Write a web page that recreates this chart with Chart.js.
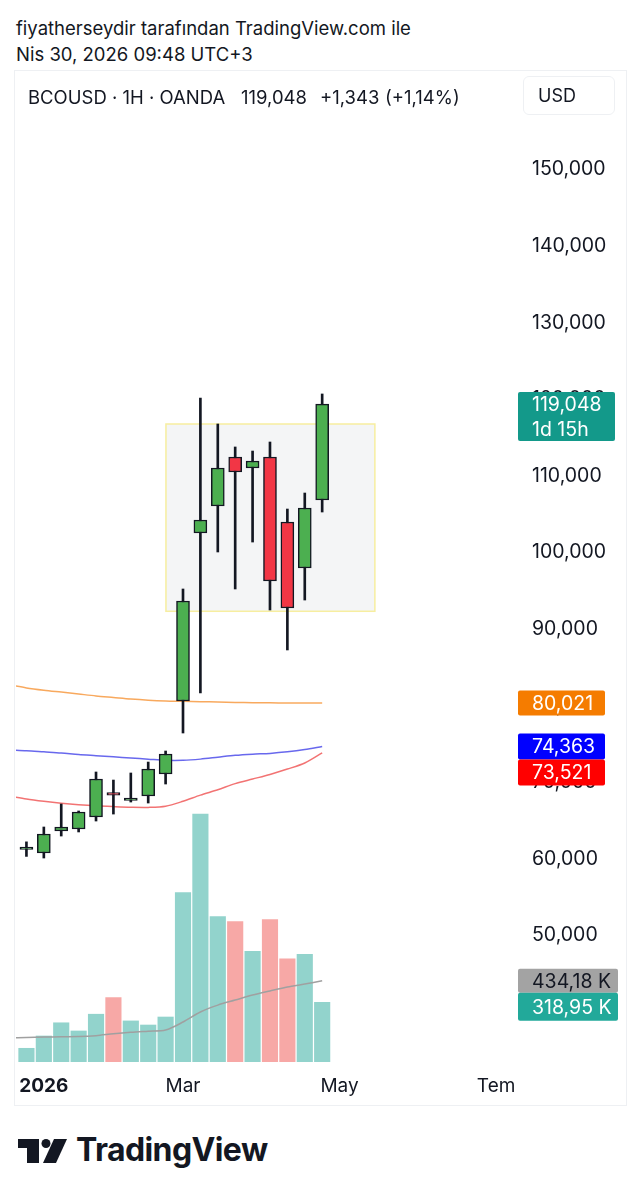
<!DOCTYPE html>
<html>
<head>
<meta charset="utf-8">
<script src="https://cdn.jsdelivr.net/npm/chart.js@4.4.1/dist/chart.umd.min.js"></script>
<style>
  body { margin: 0; background: #fff; width: 643px; height: 1200px; position: relative; overflow: hidden;
         font-family: Inter, 'Noto Sans', sans-serif; color: #131722; }
  .txt { position: absolute; white-space: nowrap; font-size: 18.5px; }
  .pane { position: absolute; left: 14px; top: 70px; width: 611px; height: 1034px; border: 1px solid #eef0f3; }
  .usd { position: absolute; left: 523px; top: 76px; width: 92px; height: 39px; border: 1px solid #eef0f3;
         border-radius: 6px; box-sizing: border-box; font-size: 18px; line-height: 37px; padding-left: 14px; }
  #wrap { position: absolute; left: 16px; top: 70px; width: 610px; height: 1035px; }
  .logo { position: absolute; left: 18px; top: 1136px; }
  .logotxt { position: absolute; left: 76px; top: 1130px; font-size: 32px; font-weight: 700; letter-spacing: -0.6px; }
</style>
</head>
<body>
<div class="txt" style="left:16px;top:17px">fiyatherseydir tarafından TradingView.com ile</div>
<div class="txt" style="left:16px;top:43px">Nis 30, 2026 09:48 UTC+3</div>
<div class="pane"></div>
<div id="wrap"><canvas id="chart" width="610" height="1035"></canvas></div>
<div class="txt" style="left:28px;top:86px">BCOUSD · 1H · OANDA</div>
<div class="txt" style="left:241px;top:86px">119,048</div>
<div class="txt" style="left:320px;top:86px">+1,343</div>
<div class="txt" style="left:385px;top:86px">(+1,14%)</div>
<div class="usd">USD</div>
<svg class="logo" width="50" height="30" viewBox="0 0 50 30">
  <path d="M0 3 H21 V27 H9 V12 H0 Z" fill="#131722"/>
  <circle cx="28" cy="7.5" r="4.5" fill="#131722"/>
  <path d="M36 3 H49 L38 27 H25 Z" fill="#131722"/>
</svg>
<div class="logotxt">TradingView</div>

<script>
// weekly candles, BCOUSD
const weeks = ['29.12.2025', '05.01.2026', '12.01.2026', '19.01.2026', '26.01.2026', '02.02.2026',
  '09.02.2026', '16.02.2026', '23.02.2026', '02.03.2026', '09.03.2026', '16.03.2026', '23.03.2026',
  '30.03.2026', '06.04.2026', '13.04.2026', '20.04.2026', '27.04.2026'];
const open  = [60.90, 60.44, 63.32, 63.58, 65.14, 68.08, 67.30, 67.89, 70.76, 80.29, 102.22, 105.74, 112.14, 110.70, 112.14, 103.66, 97.65, 106.53];
const high  = [61.90, 63.84, 66.84, 65.93, 71.02, 69.97, 70.89, 72.32, 73.76, 94.91, 119.84, 116.45, 113.45, 112.92, 114.10, 105.35, 107.44, 120.37];
const low   = [60.00, 59.79, 62.66, 63.19, 64.62, 65.53, 67.10, 66.97, 69.45, 76.11, 81.33, 99.74, 94.91, 101.04, 92.17, 86.95, 93.47, 104.96];
const close = [60.95, 62.92, 63.84, 65.80, 70.10, 68.00, 67.50, 71.41, 73.37, 93.34, 103.92, 110.70, 110.18, 111.62, 95.95, 92.43, 105.48, 119.048];
const volume = [72, 138, 209, 165, 255, 344, 219, 197, 240, 908, 1330, 779, 752, 593, 763, 553, 577, 318.95]; // K

// moving averages, first value is the week before the first candle
const maOrange = [82.40, 82.00, 81.70, 81.45, 81.20, 80.95, 80.75, 80.55, 80.40, 80.30, 80.25, 80.20, 80.15, 80.10, 80.07, 80.05, 80.03, 80.02, 80.021];
const maBlue   = [73.90, 73.80, 73.65, 73.50, 73.30, 73.15, 73.00, 72.85, 72.70, 72.55, 72.55, 72.70, 72.95, 73.20, 73.35, 73.45, 73.65, 73.95, 74.363];
const maRed    = [67.90, 67.50, 67.20, 66.95, 66.75, 66.60, 66.50, 66.42, 66.40, 66.55, 67.20, 68.00, 68.70, 69.50, 70.10, 70.70, 71.40, 72.20, 73.521];
const volMA    = [128, 130, 132, 134, 135, 140, 150, 158, 164, 170, 213, 267, 304, 331, 358, 380, 401, 417, 434.18];

const priceTicks = [50, 60, 70, 80, 90, 100, 110, 120, 130, 140, 150];
const timeTicks = [1, 9, 18, 27];
const timeLabels = ['2026', 'Mar', 'May', 'Tem'];
const countdown = '1d 15h';

// drawn rectangle (weeks / price)
const zone = { from: 8.02, to: 20.03, top: 116.45, bottom: 92.0 };

const UP = '#4caf50', DOWN = '#f23645', EDGE = '#131722';
const FONT = 'Inter, "Noto Sans", sans-serif';
const fmtPrice = v => v.toFixed(3).replace('.', ',');
const fmtVol = v => v.toFixed(2).replace('.', ',') + ' K';
const isUp = i => close[i] >= open[i];

const zonePlugin = {
  id: 'zone',
  beforeDatasetsDraw(chart) {
    const { ctx, scales: { x, y } } = chart;
    const x1 = x.getPixelForValue(zone.from), x2 = x.getPixelForValue(zone.to);
    const y1 = y.getPixelForValue(zone.top), y2 = y.getPixelForValue(zone.bottom);
    ctx.save();
    ctx.fillStyle = 'rgba(120,123,134,0.08)';
    ctx.fillRect(x1, y1, x2 - x1, y2 - y1);
    ctx.strokeStyle = '#f7eea0';
    ctx.lineWidth = 1.5;
    ctx.strokeRect(x1, y1, x2 - x1, y2 - y1);
    ctx.restore();
  }
};

function tag(ctx, left, top, w, h, bg, fg, lines) {
  ctx.fillStyle = bg;
  ctx.beginPath();
  ctx.roundRect(left, top, w, h, 2);
  ctx.fill();
  ctx.fillStyle = fg;
  ctx.textBaseline = 'middle';
  ctx.textAlign = 'left';
  const lh = h / lines.length;
  lines.forEach((t, k) => ctx.fillText(t, left + 14, top + lh * k + lh / 2 + 1));
}

const tagPlugin = {
  id: 'tags',
  afterDraw(chart) {
    const { ctx, chartArea: a, scales: { y, vol } } = chart;
    const n = close.length;
    const L = a.right + 1;
    ctx.save();
    ctx.font = '19.5px ' + FONT;
    const last = y.getPixelForValue(close[n - 1]);
    tag(ctx, L, last - 12, 97, 49, '#13998a', '#fff', [fmtPrice(close[n - 1]), countdown]);
    const yo = y.getPixelForValue(maOrange[n]);
    tag(ctx, L, yo - 12.5, 87, 25, '#f57c00', '#fff', [fmtPrice(maOrange[n])]);
    const yb = y.getPixelForValue(maBlue[n]);
    tag(ctx, L, yb - 13, 87, 26, '#0000ff', '#fff', [fmtPrice(maBlue[n])]);
    const yr = Math.max(y.getPixelForValue(maRed[n]) - 13, yb + 13);
    tag(ctx, L, yr, 87, 26, '#ff0000', '#fff', [fmtPrice(maRed[n])]);
    const yg = vol.getPixelForValue(volMA[n]);
    tag(ctx, L, yg - 12, 100, 24, '#a3a3a3', '#131722', [fmtVol(volMA[n])]);
    const yv = Math.max(vol.getPixelForValue(volume[n - 1]) - 14, yg + 12);
    tag(ctx, L, yv, 100, 28, '#22a99a', '#fff', [fmtVol(volume[n - 1])]);
    ctx.restore();
  }
};

const line = (data, color) => ({
  type: 'line', data: data.map((v, i) => ({ x: i - 1, y: v })), borderColor: color,
  borderWidth: 1.5, pointRadius: 0, tension: 0.3, order: 3, yAxisID: 'y'
});

new Chart(document.getElementById('chart'), {
  data: {
    datasets: [
      {
        type: 'bar', label: 'Hacim', yAxisID: 'vol', grouped: false, order: 6,
        data: volume.map((v, i) => ({ x: i, y: v })),
        backgroundColor: volume.map((v, i) => (isUp(i) && i !== 5) ? '#92d3cc' : '#f7a8a6'),
        barThickness: 15.5
      },
      {
        type: 'line', label: 'Hacim MA', yAxisID: 'vol', order: 5,
        data: volMA.map((v, i) => ({ x: i - 1, y: v })),
        borderColor: '#a0a0a0', borderWidth: 1.5, pointRadius: 0, tension: 0.3
      },
      line(maOrange, 'rgba(245,140,40,0.75)'),
      line(maBlue, 'rgba(40,40,230,0.7)'),
      line(maRed, 'rgba(235,40,40,0.65)'),
      {
        type: 'bar', label: 'wick', yAxisID: 'y', grouped: false, order: 2,
        data: weeks.map((w, i) => ({ x: i, y: [low[i], high[i]] })),
        backgroundColor: EDGE, barThickness: 2
      },
      {
        type: 'bar', label: 'body', yAxisID: 'y', grouped: false, order: 1,
        data: weeks.map((w, i) => ({ x: i, y: [open[i], close[i]] })),
        backgroundColor: weeks.map((w, i) => isUp(i) ? UP : DOWN),
        borderColor: EDGE, borderWidth: 1.5, borderSkipped: false, barThickness: 13, minBarLength: 2.5
      }
    ]
  },
  options: {
    responsive: false,
    animation: false,
    layout: { padding: { top: 60 } },
    plugins: { legend: { display: false }, tooltip: { enabled: false } },
    scales: {
      x: {
        type: 'linear', min: -0.6, max: 28.2, offset: false,
        grid: { display: false, drawTicks: false }, border: { display: false },
        afterBuildTicks: s => { s.ticks = timeTicks.map(v => ({ value: v })); },
        afterFit: s => { s.height = 41; s.paddingLeft = 0; s.paddingRight = 0; },
        ticks: {
          autoSkip: false, maxRotation: 0, padding: 11, color: '#131722',
          font: c => ({ size: 19, family: FONT, weight: c.index === 0 ? 'bold' : 'normal' }),
          callback: v => timeLabels[timeTicks.indexOf(v)]
        }
      },
      y: {
        position: 'right', min: 32.9, max: 154.83,
        grid: { display: false, drawTicks: false }, border: { display: false },
        afterBuildTicks: s => { s.ticks = priceTicks.map(v => ({ value: v })); },
        afterFit: s => { s.width = 109; s.paddingTop = 0; s.paddingBottom = 0; },
        ticks: {
          crossAlign: 'near', padding: 15, labelOffset: 2.5, color: '#131722',
          font: { size: 19.5, family: FONT },
          callback: v => fmtPrice(v)
        }
      },
      vol: { display: false, min: -12.35, max: 5003 }
    }
  },
  plugins: [zonePlugin, tagPlugin]
});
</script>
</body>
</html>
